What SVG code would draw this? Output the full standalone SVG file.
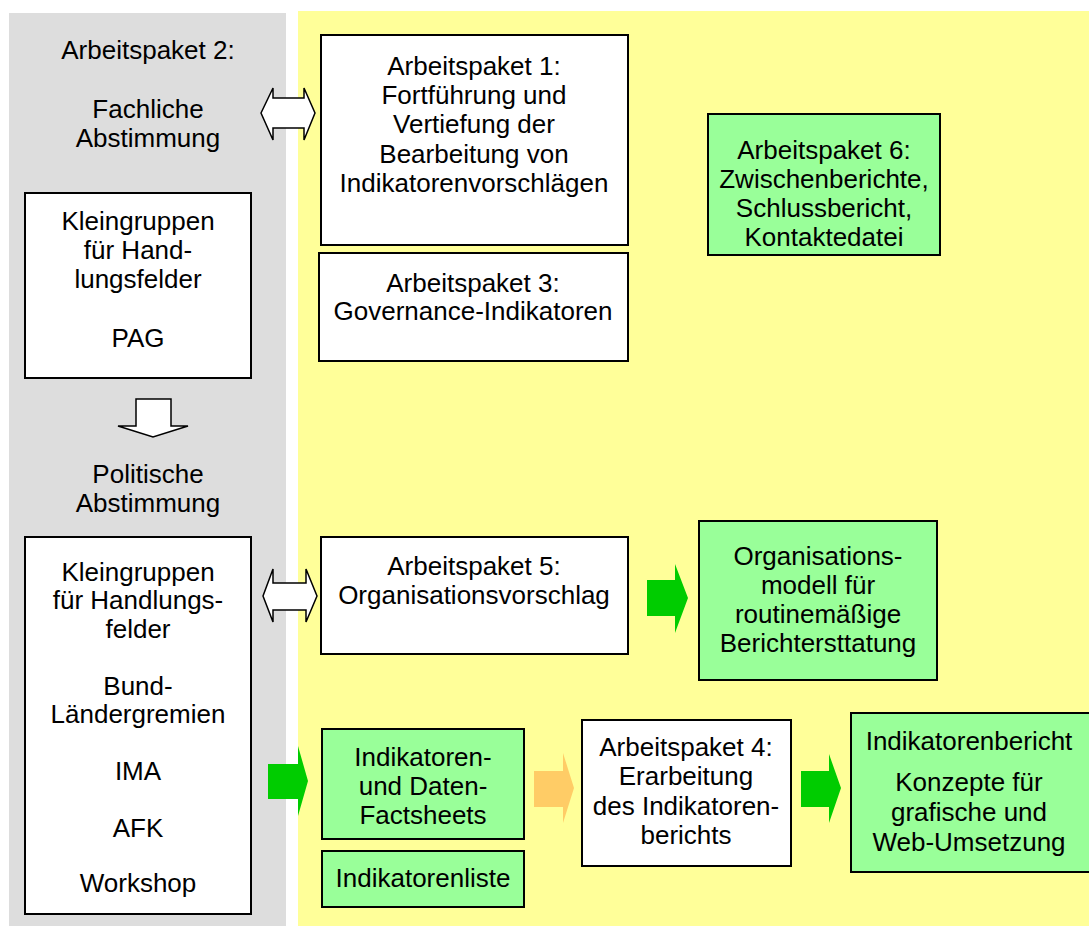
<svg xmlns="http://www.w3.org/2000/svg" width="1089" height="926" viewBox="0 0 1089 926">
<style>
text{font-family:"Liberation Sans",Arial,sans-serif;font-size:26px;fill:#000;text-anchor:middle}
.w{fill:#fff;stroke:#000;stroke-width:2}
.g{fill:#99FF99;stroke:#000;stroke-width:2}
.da{fill:#fff;stroke:#000;stroke-width:1.5;stroke-linejoin:miter}
.ga{fill:#00CC00}
.oa{fill:#FFCC66}
</style>
<rect width="1089" height="926" fill="#fff"/>
<rect id="panel-gray" x="9" y="13" width="277" height="913" fill="#DDDDDD"/>
<rect id="panel-yellow" x="298" y="11" width="791" height="915" fill="#FFFF99"/>

<g id="ap2-label">
<text x="148" y="59">Arbeitspaket 2:</text>
<text x="148" y="118">Fachliche</text>
<text x="148" y="147">Abstimmung</text>
</g>
<g id="kleingruppen-pag">
<rect class="w" x="25" y="193" width="226" height="185"/>
<text x="138" y="230">Kleingruppen</text>
<text x="138" y="259">für Hand-</text>
<text x="138" y="288">lungsfelder</text>
<text x="138" y="347">PAG</text>
</g>
<g id="politische-label">
<text x="148" y="483">Politische</text>
<text x="148" y="512">Abstimmung</text>
</g>
<g id="kleingruppen-bund">
<rect class="w" x="25" y="537" width="226" height="377"/>
<text x="138" y="581">Kleingruppen</text>
<text x="138" y="609">für Handlungs-</text>
<text x="138" y="638">felder</text>
<text x="138" y="695">Bund-</text>
<text x="138" y="723">Ländergremien</text>
<text x="138" y="780">IMA</text>
<text x="138" y="837">AFK</text>
<text x="138" y="892">Workshop</text>
</g>
<g id="ap1">
<rect class="w" x="321" y="35" width="307" height="210"/>
<text x="474" y="75">Arbeitspaket 1:</text>
<text x="474" y="104">Fortführung und</text>
<text x="474" y="133">Vertiefung der</text>
<text x="474" y="163">Bearbeitung von</text>
<text x="474" y="192">Indikatorenvorschlägen</text>
</g>
<g id="ap3">
<rect class="w" x="319" y="253" width="309" height="108"/>
<text x="473" y="292">Arbeitspaket 3:</text>
<text x="473" y="320">Governance-Indikatoren</text>
</g>
<g id="ap6">
<rect class="g" x="708" y="114" width="232" height="141"/>
<text x="824" y="159">Arbeitspaket 6:</text>
<text x="824" y="188">Zwischenberichte,</text>
<text x="824" y="217">Schlussbericht,</text>
<text x="824" y="246">Kontaktedatei</text>
</g>
<g id="ap5">
<rect class="w" x="321" y="537" width="307" height="117"/>
<text x="474" y="575">Arbeitspaket 5:</text>
<text x="474" y="604">Organisationsvorschlag</text>
</g>
<g id="organisationsmodell">
<rect class="g" x="699" y="521" width="238" height="159"/>
<text x="818" y="565">Organisations-</text>
<text x="818" y="594">modell für</text>
<text x="818" y="623">routinemäßige</text>
<text x="818" y="652">Berichtersttatung</text>
</g>
<g id="factsheets">
<rect class="g" x="322" y="729" width="202" height="110"/>
<text x="423" y="766">Indikatoren-</text>
<text x="423" y="795">und Daten-</text>
<text x="423" y="824">Factsheets</text>
</g>
<g id="indikatorenliste">
<rect class="g" x="322" y="851" width="202" height="56"/>
<text x="423" y="887">Indikatorenliste</text>
</g>
<g id="ap4">
<rect class="w" x="582" y="720" width="209" height="146"/>
<text x="686" y="756">Arbeitspaket 4:</text>
<text x="686" y="785">Erarbeitung</text>
<text x="686" y="815">des Indikatoren-</text>
<text x="686" y="844">berichts</text>
</g>
<g id="indikatorenbericht">
<rect class="g" x="851" y="713" width="245" height="159"/>
<text x="969" y="750">Indikatorenbericht</text>
<text x="969" y="791">Konzepte für</text>
<text x="969" y="821">grafische und</text>
<text x="969" y="851">Web-Umsetzung</text>
</g>

<g id="connectors">
<polygon class="da" points="261,113 273,88 273,98 304,98 304,88 315,113 304,140 304,128 273,128 273,140"/>
<polygon class="da" points="263,596 273,569 273,583 306,583 306,569 317,596 306,622 306,610 273,610 273,622"/>
<polygon class="da" points="136,399 171,399 171,426 188,426 153,437 118,426 136,426"/>
<polygon class="ga" points="268,764 298,764 298,746 308,781 298,816 298,799 268,799"/>
<polygon class="ga" points="647,580 675,580 675,564 688,598 675,633 675,616 647,616"/>
<polygon class="oa" points="534,771 563,771 563,753 574,788 563,823 563,807 534,807"/>
<polygon class="ga" points="801,771 829,771 829,754 841,788 829,823 829,807 801,807"/>
</g>
</svg>
